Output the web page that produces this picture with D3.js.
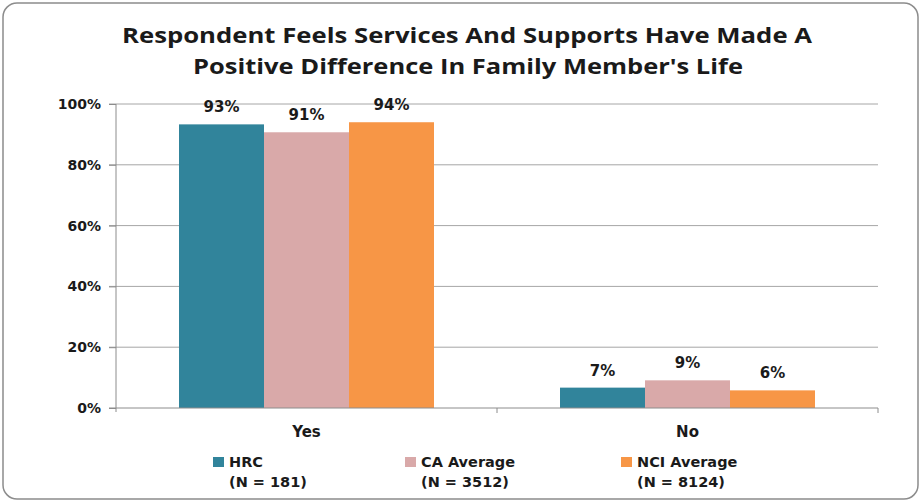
<!DOCTYPE html>
<html>
<head>
<meta charset="utf-8">
<script src="https://cdn.jsdelivr.net/npm/d3@7"></script>
<style>
  body { margin: 0; background: #fff; }
  text { font-family: "DejaVu Sans", Verdana, sans-serif; font-weight: bold; fill: #1a1a1a; }
  .title { font-family: "Open Sans", sans-serif; font-weight: bold; }
</style>
</head>
<body>
<div id="chart"></div>
<script>
// chart data
const categories = ["Yes", "No"];
const seriesNames = ["HRC", "CA Average", "NCI Average"];
const seriesN = ["(N = 181)", "(N = 3512)", "(N = 8124)"];
const hrcValues = [93.3, 6.7];
const caValues = [90.7, 9.1];
const nciValues = [94.0, 5.8];
const yTicks = [0, 20, 40, 60, 80, 100];
const colors = ["#31849B", "#D9A9A9", "#F79646"];

const width = 921, height = 502;
const margin = { top: 104, right: 43, bottom: 94, left: 116 };

const svg = d3.select("#chart").append("svg")
  .attr("width", width)
  .attr("height", height);

// outer frame
svg.append("rect")
  .attr("x", 3).attr("y", 3)
  .attr("width", width - 6).attr("height", height - 6)
  .attr("rx", 14)
  .attr("fill", "#fff")
  .attr("stroke", "#8c8c8c")
  .attr("stroke-width", 1.5);

// title (stretched to the reference's wide lettering)
const title = svg.append("text")
  .attr("class", "title")
  .attr("font-size", 21);
title.append("tspan").attr("x", 122).attr("y", 43)
  .attr("textLength", 690).attr("lengthAdjust", "spacingAndGlyphs")
  .text("Respondent Feels Services And Supports Have Made A");
title.append("tspan").attr("x", 193).attr("y", 74)
  .attr("textLength", 550).attr("lengthAdjust", "spacingAndGlyphs")
  .text("Positive Difference In Family Member's Life");

const x0 = d3.scaleBand()
  .domain(categories)
  .range([margin.left, width - margin.right]);

const x1 = d3.scaleBand()
  .domain(seriesNames)
  .range([0, 255]);

const y = d3.scaleLinear()
  .domain([0, 100])
  .range([height - margin.bottom, margin.top]);

// gridlines
svg.append("g")
  .selectAll("line")
  .data(yTicks.filter(d => d > 0))
  .join("line")
  .attr("x1", margin.left - 7)
  .attr("x2", width - margin.right)
  .attr("y1", d => y(d))
  .attr("y2", d => y(d))
  .attr("stroke", "#a6a6a6")
  .attr("stroke-width", 1);

// y axis
const yAxis = svg.append("g")
  .attr("transform", `translate(${margin.left},0)`)
  .call(d3.axisLeft(y).tickValues(yTicks).tickFormat(d => d + "%").tickSize(7).tickPadding(8));
yAxis.select(".domain").attr("stroke", "#8c8c8c").attr("d", `M0,${y(100)}V${y(0) + 4}`);
yAxis.selectAll(".tick line").attr("stroke", "#8c8c8c");
yAxis.selectAll(".tick text").attr("font-size", 14).attr("fill", "#1a1a1a")
  .style("font-family", "'DejaVu Sans', sans-serif").style("font-weight", "bold");

// bars
const rows = categories.map((c, i) => ({
  cat: c,
  vals: [hrcValues[i], caValues[i], nciValues[i]].map((v, j) => ({ name: seriesNames[j], v, j }))
}));

const groups = svg.append("g")
  .selectAll("g")
  .data(rows)
  .join("g")
  .attr("transform", d => `translate(${x0(d.cat) + (x0.bandwidth() - 255) / 2},0)`);

groups.selectAll("rect")
  .data(d => d.vals)
  .join("rect")
  .attr("x", d => x1(d.name))
  .attr("y", d => y(d.v))
  .attr("width", x1.bandwidth())
  .attr("height", d => y(0) - y(d.v))
  .attr("fill", d => colors[d.j]);

groups.selectAll("text")
  .data(d => d.vals)
  .join("text")
  .attr("x", d => x1(d.name) + x1.bandwidth() / 2)
  .attr("y", d => y(d.v) - 12)
  .attr("text-anchor", "middle")
  .attr("font-size", 15)
  .text(d => Math.round(d.v) + "%");

// x axis
const xAxis = svg.append("g")
  .attr("transform", `translate(0,${y(0)})`)
  .call(d3.axisBottom(x0).tickSize(0).tickPadding(18));
xAxis.select(".domain").attr("stroke", "#8c8c8c").attr("d", `M${margin.left - 7},0H${width - margin.right}`);
xAxis.selectAll(".tick text").attr("font-size", 15).attr("fill", "#1a1a1a")
  .style("font-family", "'DejaVu Sans', sans-serif").style("font-weight", "bold");
// category separators
svg.append("g")
  .selectAll("line")
  .data([x0.range()[0] + x0.bandwidth(), x0.range()[1]])
  .join("line")
  .attr("x1", d => d).attr("x2", d => d)
  .attr("y1", y(0)).attr("y2", y(0) + 5)
  .attr("stroke", "#8c8c8c");

// legend
const legendX = [213, 405, 621];
const legend = svg.append("g")
  .selectAll("g")
  .data(seriesNames)
  .join("g")
  .attr("transform", (d, i) => `translate(${legendX[i]},456)`);

legend.append("rect")
  .attr("width", 11).attr("height", 10)
  .attr("y", 1)
  .attr("fill", (d, i) => colors[i]);

legend.append("text")
  .attr("x", 16).attr("y", 11)
  .attr("font-size", 14.5)
  .text(d => d);

legend.append("text")
  .attr("x", 16).attr("y", 31)
  .attr("font-size", 14.5)
  .text((d, i) => seriesN[i]);
</script>
</body>
</html>
